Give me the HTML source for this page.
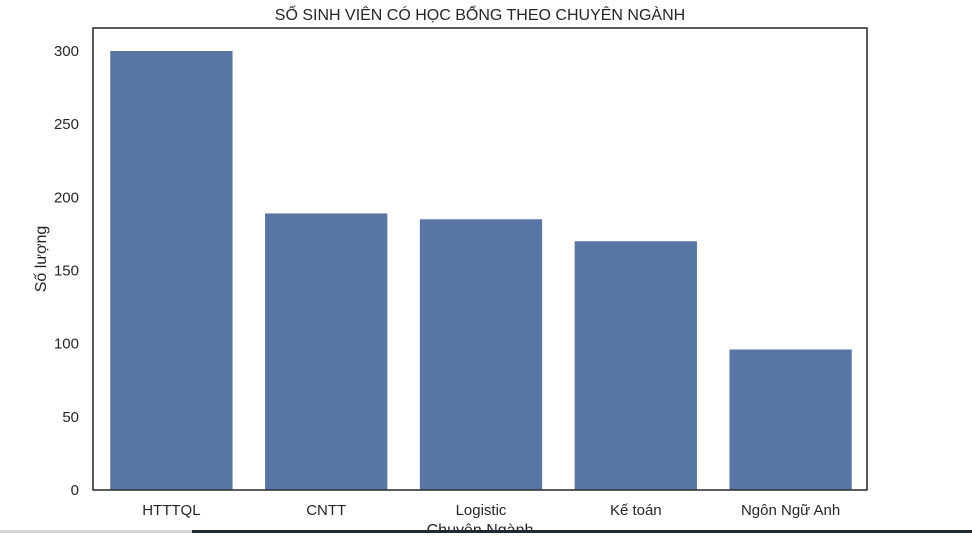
<!DOCTYPE html>
<html><head><meta charset="utf-8"><style>
body{margin:0;background:#fff;width:972px;height:533px;overflow:hidden;position:relative;font-family:"Liberation Sans","DejaVu Sans",sans-serif}
svg text{font-family:"Liberation Sans","DejaVu Sans",sans-serif;fill:#262626}
</style></head><body>
<svg id="chart" width="972" height="533" xmlns="http://www.w3.org/2000/svg">
<text x="480" y="20" font-size="16" text-anchor="middle">SỐ SINH VIÊN CÓ HỌC BỔNG THEO CHUYÊN NGÀNH</text>
<g id="bars"></g><g id="yticks"></g><g id="xticks"></g>
<rect x="93" y="28" width="774" height="462" fill="none" stroke="#333" stroke-width="1.6"/>
<text transform="translate(46,259) rotate(-90)" font-size="16" text-anchor="middle">Số lượng</text>
<text x="480" y="535" font-size="16" text-anchor="middle">Chuyên Ngành</text>
<rect x="0" y="530" width="192" height="3" fill="#d6d6d6"/>
<rect x="192" y="530" width="780" height="3" fill="#1e2a30"/>
</svg>
<script>
const categories=["HTTTQL","CNTT","Logistic","Kế toán","Ngôn Ngữ Anh"];
const values=[300,189,185,170,96];
const yTicks=[0,50,100,150,200,250,300];
const ns="http://www.w3.org/2000/svg";
const x0=94,plotW=774,yBase=490,yTop300=51;
function y(v){return yBase-(yBase-yTop300)*v/300;}
function xc(i){return x0+plotW*(i+0.5)/categories.length;}
const bw=plotW/categories.length*0.79;
const gb=document.getElementById('bars'),gy=document.getElementById('yticks'),gx=document.getElementById('xticks');
values.forEach((v,i)=>{
 const r=document.createElementNS(ns,'rect');
 
 
 r.setAttribute('x',xc(i)-bw/2);r.setAttribute('width',bw);
 r.setAttribute('y',y(v));r.setAttribute('height',yBase-y(v));
 r.setAttribute('fill','#5875a4');gb.appendChild(r);
 const t=document.createElementNS(ns,'text');
 
 
 t.setAttribute('x',xc(i));t.setAttribute('y',515);t.setAttribute('font-size','15');t.setAttribute('text-anchor','middle');
 t.textContent=categories[i];gx.appendChild(t);
});
yTicks.forEach(v=>{
 const t=document.createElementNS(ns,'text');
 
 
 t.setAttribute('x',79);t.setAttribute('y',y(v)+5);t.setAttribute('font-size','15');t.setAttribute('text-anchor','end');
 t.textContent=v;gy.appendChild(t);
});
</script>
</body></html>
